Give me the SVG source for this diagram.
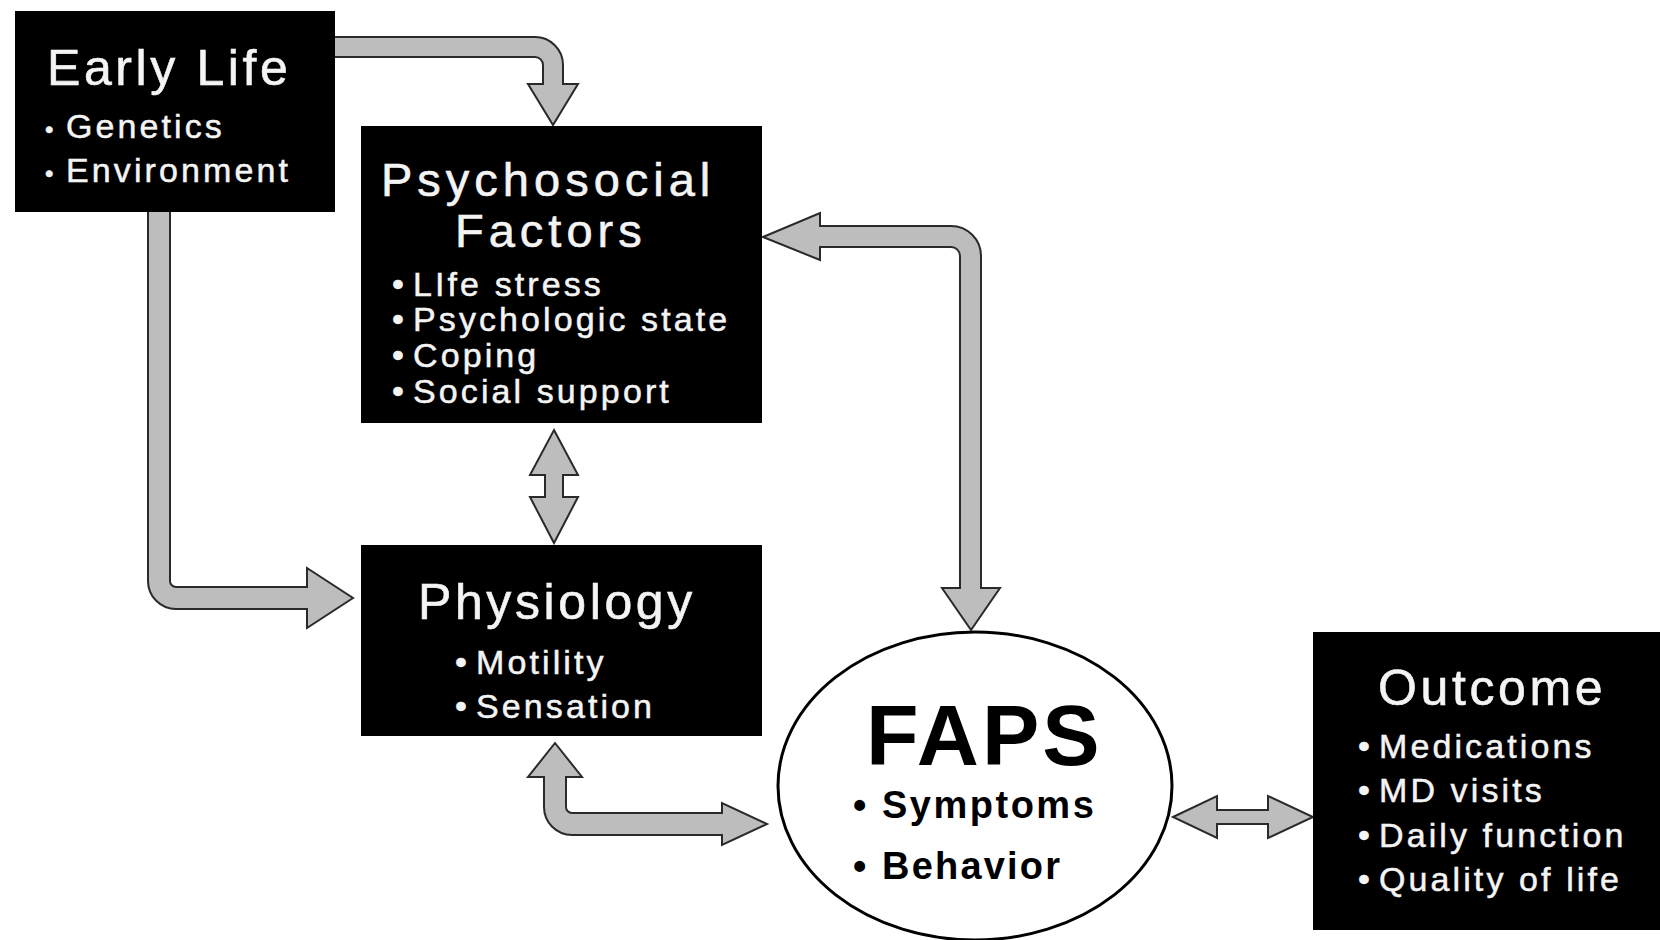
<svg xmlns="http://www.w3.org/2000/svg" width="1660" height="940" viewBox="0 0 1660 940">
<style>
.box{fill:#000}
.arrow{fill:#bdbdbd;stroke:#2a2a2a;stroke-width:2;stroke-linejoin:miter}
.title{font-family:"Liberation Sans",Arial,sans-serif;font-size:50px;fill:#f4f4f4;stroke:#f4f4f4;stroke-width:0.6;letter-spacing:3.6px}
.tight{font-size:47px;letter-spacing:5px}
.item{font-family:"Liberation Sans",Arial,sans-serif;font-size:34px;fill:#f4f4f4;stroke:#f4f4f4;stroke-width:0.5;letter-spacing:3.1px}
.faps{font-family:"Liberation Sans",Arial,sans-serif;font-weight:bold;fill:#000}
</style>
<rect width="1660" height="940" fill="#fff"/>
<g id="connectors">
<path class="arrow" d="M330,37 H535 A28,28 0 0 1 563,65 V84 H578 L553,125 L528,84 H543 V65 A8,8 0 0 0 535,57 H330 Z"/>
<path class="arrow" d="M148,208 V581 A28,28 0 0 0 176,609 H307 V628 L353,598 L307,568 V587 H176 A6,6 0 0 1 170,581 V208 Z"/>
<path class="arrow" d="M554,430 L578,475 H563 V497 H578 L554,543 L530,497 H545 V475 H530 Z"/>
<path class="arrow" d="M555,743 L582,777 H566 V807 A6,6 0 0 0 572,813 H722 V803 L767,824 L722,845 V835 H572 A28,28 0 0 1 544,807 V777 H528 Z"/>
<path class="arrow" d="M763,237 L820,213 V226 H951 A30,30 0 0 1 981,256 V588 H1000 L971,630 L942,588 H960 V256 A9,9 0 0 0 951,247 H820 V260 Z"/>
<path class="arrow" d="M1173,817 L1217,796 V810 H1268 V796 L1313,817 L1268,838 V824 H1217 V838 Z"/>
</g>
<g id="early-life">
<rect class="box" x="15" y="11" width="320" height="201"/>
<text class="title" x="47" y="85">Early Life</text>
<text class="item" y="138"><tspan x="45" font-size="24">•</tspan><tspan x="66">Genetics</tspan></text>
<text class="item" y="182"><tspan x="45" font-size="24">•</tspan><tspan x="66">Environment</tspan></text>
</g>
<g id="psychosocial">
<rect class="box" x="361" y="126" width="401" height="297"/>
<text class="title tight" x="381" y="196">Psychosocial</text>
<text class="title tight" x="455" y="247">Factors</text>
<text class="item" y="296"><tspan x="392">•</tspan><tspan x="413">LIfe stress</tspan></text>
<text class="item" y="331"><tspan x="392">•</tspan><tspan x="413">Psychologic state</tspan></text>
<text class="item" y="367"><tspan x="392">•</tspan><tspan x="413">Coping</tspan></text>
<text class="item" y="403"><tspan x="392">•</tspan><tspan x="413">Social support</tspan></text>
</g>
<g id="physiology">
<rect class="box" x="361" y="545" width="401" height="191"/>
<text class="title" x="418" y="619">Physiology</text>
<text class="item" y="674"><tspan x="455">•</tspan><tspan x="476">Motility</tspan></text>
<text class="item" y="718"><tspan x="455">•</tspan><tspan x="476">Sensation</tspan></text>
</g>
<g id="faps">
<ellipse cx="975" cy="786" rx="197" ry="154" fill="#fff" stroke="#000" stroke-width="3"/>
<text class="faps" x="866" y="765" font-size="86" letter-spacing="3">FAPS</text>
<text class="faps" y="818" font-size="38" letter-spacing="2.5"><tspan x="853">•</tspan><tspan x="882">Symptoms</tspan></text>
<text class="faps" y="879" font-size="38" letter-spacing="2.2"><tspan x="853">•</tspan><tspan x="882">Behavior</tspan></text>
</g>
<g id="outcome">
<rect class="box" x="1313" y="632" width="347" height="298"/>
<text class="title" x="1378" y="705">Outcome</text>
<text class="item" y="758"><tspan x="1358">•</tspan><tspan x="1379">Medications</tspan></text>
<text class="item" y="802"><tspan x="1358">•</tspan><tspan x="1379">MD visits</tspan></text>
<text class="item" y="847"><tspan x="1358">•</tspan><tspan x="1379">Daily function</tspan></text>
<text class="item" y="891"><tspan x="1358">•</tspan><tspan x="1379">Quality of life</tspan></text>
</g>
</svg>
